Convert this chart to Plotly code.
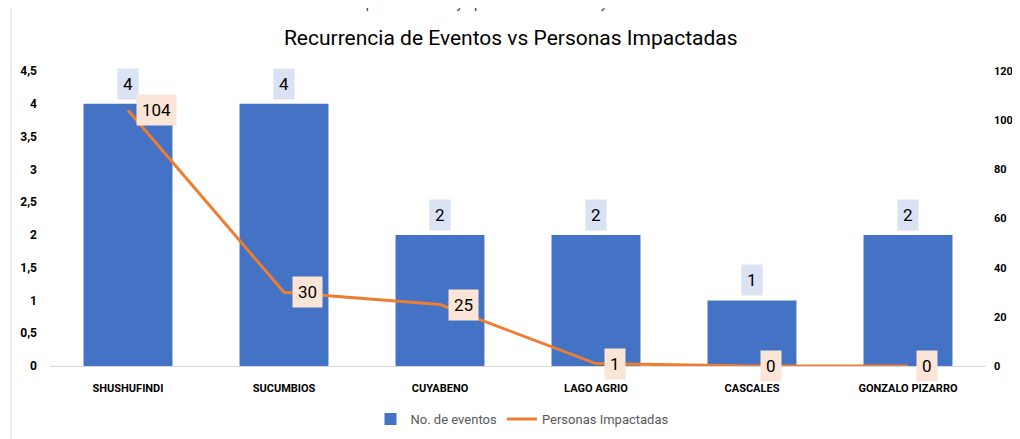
import plotly.graph_objects as go

categorias = ["SHUSHUFINDI", "SUCUMBIOS", "CUYABENO", "LAGO AGRIO", "CASCALES", "GONZALO PIZARRO"]
eventos = [4, 4, 2, 2, 1, 2]
personas = [104, 30, 25, 1, 0, 0]
y1_ticks = [0, 0.5, 1, 1.5, 2, 2.5, 3, 3.5, 4, 4.5]
y1_labels = ["0", "0,5", "1", "1,5", "2", "2,5", "3", "3,5", "4", "4,5"]
y2_ticks = [0, 20, 40, 60, 80, 100, 120]

FONT = "Roboto, Liberation Sans, DejaVu Sans, sans-serif"
OFF = 8  # browser body margin
PAGE_W, PAGE_H = 1020, 439
W, H = PAGE_W - OFF, PAGE_H - OFF
PL, PR, PT, PB = 50, 986, 71, 366  # plot area in page pixels
L, R, T, B = PL - OFF, PAGE_W - PR, PT - OFF, PAGE_H - PB
PW = PR - PL
PH = PB - PT

def px_x(p):
    return (p - PL) / PW

def px_y(p):
    return (PB - p) / PH

def f(size, color="black", weight="normal"):
    return dict(family=FONT, size=size, color=color, weight=weight)

fig = go.Figure()
fig.add_trace(go.Bar(x=categorias, y=eventos, name="No. de eventos",
                     marker=dict(color="#4472c4", line=dict(width=0)), yaxis="y"))
fig.add_trace(go.Scatter(x=categorias, y=personas, name="Personas Impactadas", mode="lines",
                         line=dict(color="#ed7d31", width=3), yaxis="y2"))

ann = []
for c, v in zip(categorias, eventos):
    ann.append(dict(x=c, y=v, xref="x", yref="y", text=str(v), showarrow=False,
                    yanchor="bottom", yshift=4, bgcolor="#dae3f3", borderpad=5,
                    font=f(17)))
for c, v in zip(categorias, personas):
    ann.append(dict(x=c, y=v, xref="x", yref="y2", text=str(v), showarrow=False,
                    xanchor="left", xshift=8, yanchor="middle", bgcolor="#fbe5d6", borderpad=5,
                    font=f(17)))
ann.append(dict(x=px_x(245), y=px_y(13), xref="paper", yref="paper", xanchor="left", yanchor="bottom",
                showarrow=False, text="<b>Nota:</b>  Personas impactadas incluye personas afectadas y damnificadas.",
                font=f(14, "#404040")))

fig.update_layout(
    width=W, height=H,
    margin=dict(l=L, r=R, t=T, b=B, autoexpand=False),
    paper_bgcolor="white", plot_bgcolor="white",
    bargap=0.43,
    title=dict(text="Recurrencia de Eventos vs Personas Impactadas", x=px_x(515), xanchor="center",
               y=1 - (38 - OFF) / H, yanchor="middle", yref="container",
               font=f(21)),
    xaxis=dict(showgrid=False, showline=True, linecolor="#d9d9d9", linewidth=1, ticks="",
               automargin=False, ticklabelstandoff=12, tickfont=f(11, weight="bold")),
    yaxis=dict(range=[0, 4.5], tickvals=y1_ticks, ticktext=y1_labels, showgrid=False, zeroline=False,
               showline=False, ticks="", ticklabelstandoff=12, automargin=False,
               tickfont=f(12, weight="bold")),
    yaxis2=dict(range=[0, 120], tickvals=y2_ticks, overlaying="y", side="right", showgrid=False,
                zeroline=False, showline=False, ticks="", ticklabelstandoff=7, automargin=False,
                tickfont=f(11, weight="bold")),
    legend=dict(orientation="h", x=px_x(522), xanchor="center", y=px_y(419), yanchor="middle",
                font=f(13, "#595959")),
    annotations=ann,
    shapes=[dict(type="rect", xref="paper", yref="paper", x0=px_x(11), x1=px_x(1030),
                 y0=px_y(450), y1=px_y(6), line=dict(color="#d9d9d9", width=1), layer="below")],
)

fig.write_html("out.html")
